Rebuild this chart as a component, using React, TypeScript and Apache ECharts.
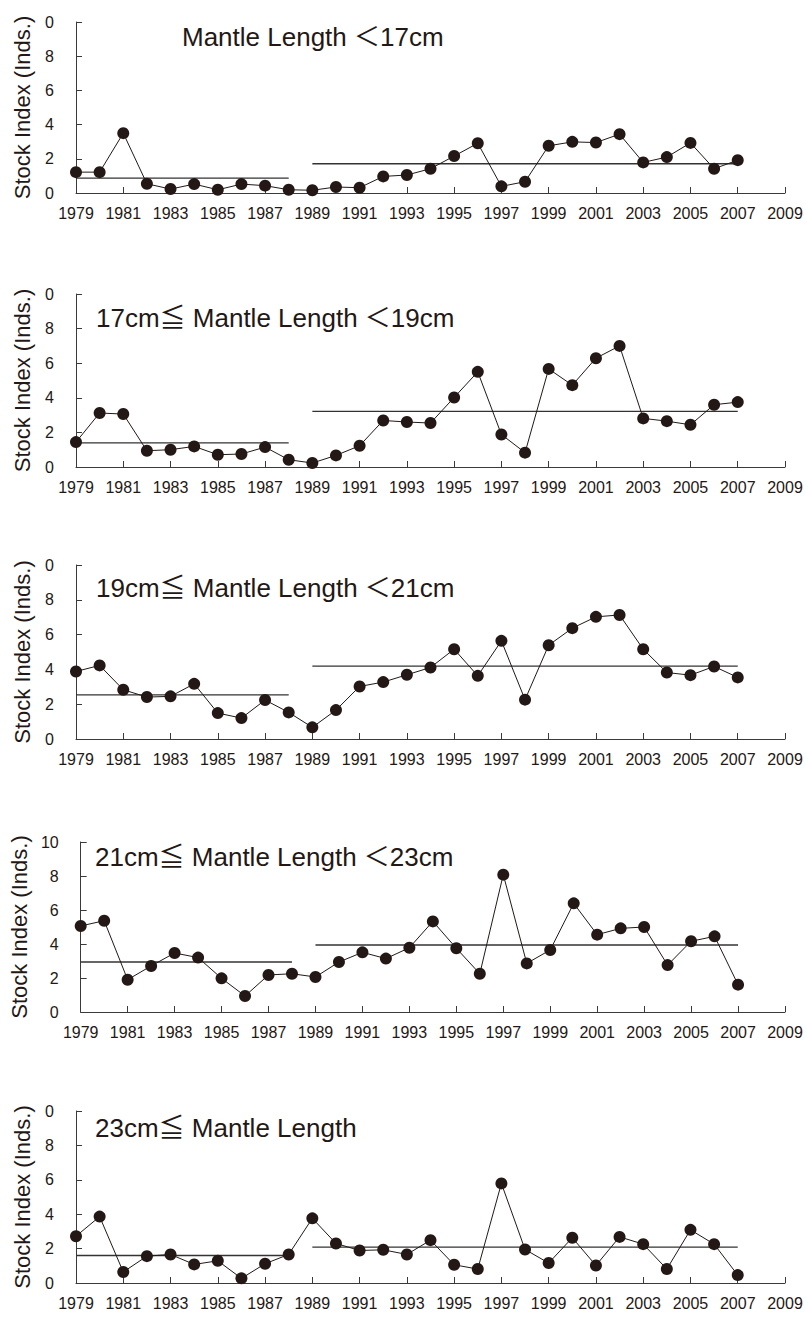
import React, { useEffect, useRef } from "react";
import * as echarts from "echarts";

const YEARS = [
  "1979", "1980", "1981", "1982", "1983", "1984", "1985", "1986", "1987", "1988",
  "1989", "1990", "1991", "1992", "1993", "1994", "1995", "1996", "1997", "1998",
  "1999", "2000", "2001", "2002", "2003", "2004", "2005", "2006", "2007", "2008", "2009",
];

const TITLES = [
  "Mantle Length ＜17cm",
  "17cm≦ Mantle Length ＜19cm",
  "19cm≦ Mantle Length ＜21cm",
  "21cm≦ Mantle Length ＜23cm",
  "23cm≦ Mantle Length",
];

// Stock index by year 1979..2007
const ML_LT17 = [1.22, 1.22, 3.5, 0.54, 0.23, 0.52, 0.19, 0.52, 0.43, 0.19, 0.16, 0.35, 0.31, 0.97, 1.05,
  1.42, 2.16, 2.91, 0.39, 0.66, 2.76, 2.99, 2.95, 3.44, 1.79, 2.1, 2.93, 1.42, 1.92];
const ML_17_19 = [1.44, 3.12, 3.06, 0.94, 1.0, 1.19, 0.71, 0.75, 1.15, 0.42, 0.23, 0.67, 1.23, 2.69, 2.6,
  2.54, 4.02, 5.5, 1.88, 0.83, 5.67, 4.73, 6.29, 7.0, 2.81, 2.65, 2.44, 3.6, 3.75];
const ML_19_21 = [3.88, 4.23, 2.83, 2.41, 2.45, 3.17, 1.49, 1.2, 2.24, 1.53, 0.67, 1.66, 3.02, 3.27, 3.69,
  4.11, 5.16, 3.63, 5.64, 2.26, 5.39, 6.37, 7.02, 7.13, 5.16, 3.82, 3.67, 4.17, 3.54];
const ML_21_23 = [5.06, 5.37, 1.9, 2.71, 3.47, 3.2, 1.98, 0.94, 2.18, 2.25, 2.06, 2.94, 3.51, 3.14, 3.78,
  5.33, 3.75, 2.25, 8.08, 2.86, 3.65, 6.39, 4.55, 4.92, 5.0, 2.76, 4.16, 4.45, 1.61];
const ML_GE23 = [2.72, 3.86, 0.64, 1.56, 1.66, 1.08, 1.29, 0.27, 1.12, 1.66, 3.76, 2.3, 1.89, 1.93, 1.66,
  2.49, 1.06, 0.81, 5.79, 1.95, 1.16, 2.63, 1.02, 2.68, 2.26, 0.81, 3.09, 2.26, 0.46];

const SERIES = [ML_LT17, ML_17_19, ML_19_21, ML_21_23, ML_GE23];

// Period means: 1979-1988 and 1989-2007
const MEAN_EARLY = [0.87, 1.4, 2.54, 2.94, 1.6];
const MEAN_LATE = [1.71, 3.21, 4.19, 3.94, 2.08];
const EARLY_SPAN = ["1979", "1988"];
const LATE_SPAN = ["1989", "2007"];

// Top tick label as printed (clipped "10" in most panels)
const TOP_LABELS = ["0", "0", "0", "10", "0"];

const GRID_TOPS = [22, 294, 565, 842, 1111];
const GRID_HEIGHTS = [171, 173, 174, 170, 172];
const TITLE_POS = [
  [182, 37],
  [96, 318],
  [96, 588],
  [95, 857],
  [95, 1128],
];

const FONT = '"Liberation Sans", Arial, "Noto Sans CJK JP", sans-serif';
const INK = "#231815";
const AXIS = "#3a3a3a";

export default function App() {
  const ref = useRef<HTMLDivElement>(null);
  useEffect(() => {
    if (!ref.current) return;
    const chart = echarts.init(ref.current, null, { renderer: "svg" });
    const grid: any[] = [];
    const xAxis: any[] = [];
    const yAxis: any[] = [];
    const series: any[] = [];
    const graphic: any[] = [];
    for (let i = 0; i < 5; i++) {
      grid.push({ left: 76, right: 21, top: GRID_TOPS[i], height: GRID_HEIGHTS[i], containLabel: false });
      xAxis.push({
        type: "category",
        gridIndex: i,
        data: YEARS,
        boundaryGap: false,
        axisLine: { lineStyle: { color: AXIS, width: 1 } },
        axisTick: { inside: true, length: 6, interval: 1, lineStyle: { color: AXIS } },
        axisLabel: { interval: 1, margin: 12, fontSize: 16, color: INK, fontFamily: FONT },
        splitLine: { show: false },
      });
      const top = TOP_LABELS[i];
      yAxis.push({
        type: "value",
        gridIndex: i,
        min: 0,
        max: 10,
        interval: 2,
        name: "Stock Index (Inds.)",
        nameLocation: "middle",
        nameGap: 43,
        nameTextStyle: { fontSize: 22, color: INK, fontFamily: FONT },
        axisLine: { show: true, lineStyle: { color: AXIS, width: 1 } },
        axisTick: { show: true, inside: true, length: 6, lineStyle: { color: AXIS } },
        axisLabel: {
          margin: 22,
          fontSize: 16,
          color: INK,
          fontFamily: FONT,
          formatter: (v: number) => (v === 10 ? top : String(v)),
        },
        splitLine: { show: false },
      });
      series.push({
        type: "line",
        xAxisIndex: i,
        yAxisIndex: i,
        data: SERIES[i],
        symbol: "circle",
        symbolSize: 12,
        itemStyle: { color: INK },
        lineStyle: { color: INK, width: 1 },
        z: 3,
      });
      series.push({
        type: "line",
        xAxisIndex: i,
        yAxisIndex: i,
        data: [
          [EARLY_SPAN[0], MEAN_EARLY[i]],
          [EARLY_SPAN[1], MEAN_EARLY[i]],
        ],
        symbol: "none",
        lineStyle: { color: "#333333", width: 1.3 },
        z: 2,
      });
      series.push({
        type: "line",
        xAxisIndex: i,
        yAxisIndex: i,
        data: [
          [LATE_SPAN[0], MEAN_LATE[i]],
          [LATE_SPAN[1], MEAN_LATE[i]],
        ],
        symbol: "none",
        lineStyle: { color: "#333333", width: 1.3 },
        z: 2,
      });
      graphic.push({
        type: "text",
        x: TITLE_POS[i][0],
        y: TITLE_POS[i][1],
        style: {
          text: TITLES[i],
          fontSize: 26,
          fontFamily: FONT,
          fill: INK,
          verticalAlign: "middle",
          align: "left",
        },
      });
    }
    chart.setOption({
      animation: false,
      backgroundColor: "#ffffff",
      grid,
      xAxis,
      yAxis,
      series,
      graphic,
    });
    return () => chart.dispose();
  }, []);
  return (
    <div
      ref={ref}
      style={{ position: "absolute", left: 0, top: 0, width: 806, height: 1318, background: "#fff" }}
    />
  );
}
